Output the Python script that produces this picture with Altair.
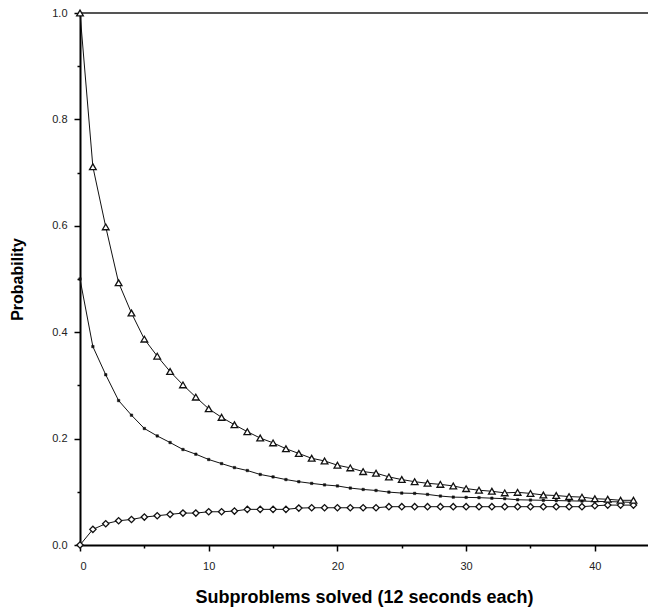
import altair as alt
import pandas as pd

x_vals = list(range(44))

tri_vals = [1.0, 0.711, 0.598, 0.493, 0.436, 0.387, 0.355, 0.326, 0.301, 0.278,
            0.256, 0.240, 0.226, 0.213, 0.201, 0.192, 0.181, 0.172, 0.163, 0.158,
            0.150, 0.145, 0.138, 0.135, 0.128, 0.123, 0.119, 0.116, 0.114, 0.111,
            0.106, 0.103, 0.101, 0.098, 0.099, 0.097, 0.094, 0.093, 0.091, 0.090,
            0.087, 0.086, 0.084, 0.084]

sq_vals = [0.500, 0.373, 0.320, 0.2715, 0.244, 0.219, 0.205, 0.1926, 0.1795, 0.1707,
           0.1607, 0.153, 0.1455, 0.140, 0.1326, 0.128, 0.123, 0.119, 0.1158, 0.113,
           0.111, 0.107, 0.1044, 0.1025, 0.0994, 0.0976, 0.097, 0.0951, 0.092, 0.090,
           0.0895, 0.089, 0.088, 0.087, 0.085, 0.0845, 0.084, 0.0835, 0.083, 0.0825,
           0.082, 0.0815, 0.081, 0.080]

dia_vals = [0.0, 0.0294, 0.040, 0.0456, 0.048, 0.0525, 0.055, 0.0576, 0.060, 0.060,
            0.0625, 0.0625, 0.0638, 0.067, 0.067, 0.067, 0.067, 0.0694, 0.070, 0.070,
            0.070, 0.070, 0.070, 0.070, 0.072, 0.072, 0.072, 0.072, 0.072, 0.072,
            0.072, 0.072, 0.072, 0.072, 0.072, 0.072, 0.072, 0.072, 0.072, 0.072,
            0.0738, 0.075, 0.075, 0.075]

x_ticks = [0, 5, 10, 15, 20, 25, 30, 35, 40]
y_ticks = [0.0, 0.1, 0.2, 0.3, 0.4, 0.5, 0.6, 0.7, 0.8, 0.9, 1.0]

W, H = 568, 532

df_tri = pd.DataFrame({"x": x_vals, "y": tri_vals})
df_sq = pd.DataFrame({"x": x_vals, "y": sq_vals})
df_dia = pd.DataFrame({"x": x_vals, "y": dia_vals})

FONT = "Liberation Sans"

xscale = alt.Scale(domain=[0, 44.13], nice=False, zero=False)
yscale = alt.Scale(domain=[0, 1], nice=False)

xaxis = alt.Axis(
    values=x_ticks,
    labelExpr="datum.value % 10 == 0 ? datum.label : ''",
    tickSize={"condition": {"test": "datum.value % 10 == 0", "value": 6}, "value": 3},
    title="Subproblems solved (12 seconds each)",
    titleFontSize=18, titleFontWeight="bold", titleFont=FONT, titleColor="#000",
    titlePadding=17,
    labelFontSize=11, labelFont=FONT, labelColor="#222", labelPadding=9,
    grid=False, domainColor="#000", domainWidth=2, tickColor="#000", tickWidth=1.5,
)
yaxis = alt.Axis(
    values=y_ticks,
    format=".1f",
    labelExpr="round(datum.value * 10) % 2 == 0 ? datum.label : ''",
    tickSize={"condition": {"test": "round(datum.value * 10) % 2 == 0", "value": 6}, "value": 3},
    title="Probability",
    titleFontSize=16, titleFontWeight="bold", titleFont=FONT, titleColor="#000",
    titlePadding=26,
    labelFontSize=11, labelFont=FONT, labelColor="#222", labelPadding=7,
    grid=False, domainColor="#000", domainWidth=2, tickColor="#000", tickWidth=1.5,
)

def series(df, shape, size, filled):
    base = alt.Chart(df)
    line = base.mark_line(color="#111", strokeWidth=1).encode(
        x=alt.X("x:Q", scale=xscale, axis=xaxis),
        y=alt.Y("y:Q", scale=yscale, axis=yaxis),
    )
    pts = base.mark_point(
        shape=shape, size=size, filled=True,
        fill="#111" if filled else "white",
        stroke="#111", strokeWidth=1.3 if not filled else 0.5, opacity=1,
    ).encode(x="x:Q", y="y:Q")
    return line + pts

top_rule = alt.Chart(pd.DataFrame({"a": [0]})).mark_rule(color="#555", strokeWidth=2).encode(
    x=alt.value(0), x2=alt.value(W), y=alt.value(0)
)

chart = alt.layer(
    top_rule,
    series(df_sq, "square", 6, True),
    series(df_dia, "diamond", 40, False),
    series(df_tri, "triangle-up", 45, False),
).properties(
    width=W, height=H,
    autosize=alt.AutoSizeParams(type="none"),
    padding={"left": 72, "top": 5, "right": 0, "bottom": 62},
).configure_view(stroke=None).configure(background="white")

chart.save("out.html", embed_options={"renderer": "svg", "actions": False})
